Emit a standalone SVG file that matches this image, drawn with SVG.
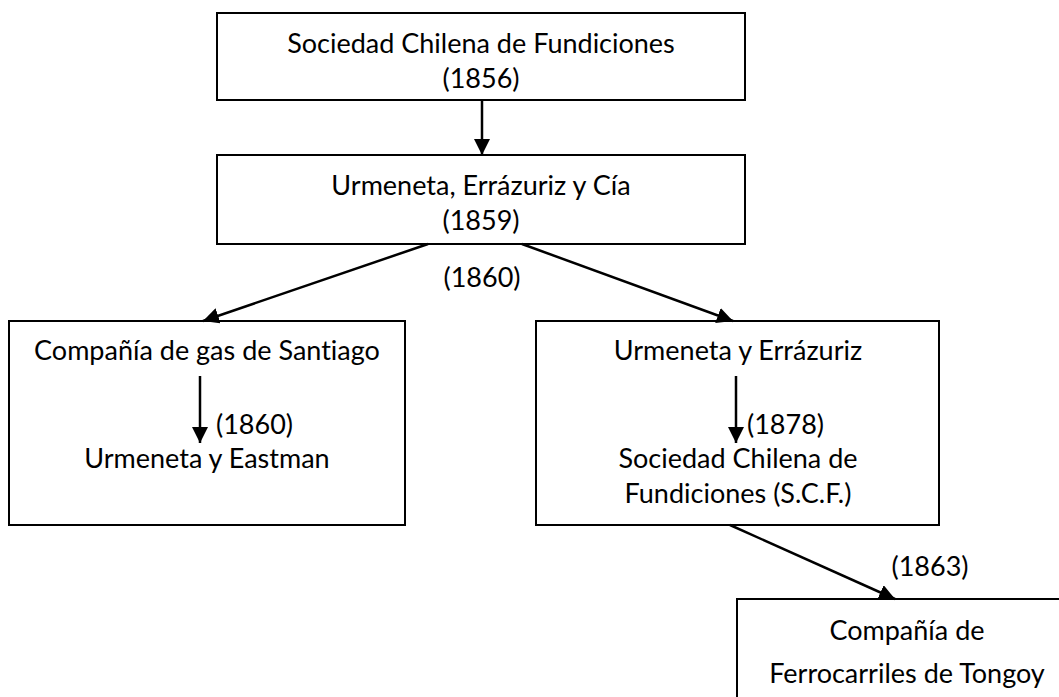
<svg xmlns="http://www.w3.org/2000/svg" width="1059" height="697" viewBox="0 0 1059 697">
<style>
.box{fill:#fff;stroke:#000;stroke-width:2}
.t{font-family:Lato,"Liberation Sans",sans-serif;font-size:27px;fill:#000;text-anchor:middle;font-variant-ligatures:none}
.l{font-family:Lato,"Liberation Sans",sans-serif;font-size:27px;fill:#000;font-variant-ligatures:none}
.c{stroke:#000;stroke-width:2.5;fill:none;marker-end:url(#ah)}
</style>
<defs>
<marker id="ah" markerUnits="userSpaceOnUse" markerWidth="16" markerHeight="16" viewBox="0 0 16 16" refX="16" refY="8" orient="auto">
<path d="M0,0 L16,8 L0,16 z" fill="#000"/>
</marker>
</defs>
<rect width="1059" height="697" fill="#fff"/>
<g id="n1">
<rect class="box" x="217" y="13" width="528" height="87"/>
<text class="t" x="481" y="53">Sociedad Chilena de Fundiciones</text>
<text class="t" x="481" y="88">(1856)</text>
</g>
<g id="n2">
<rect class="box" x="217" y="155" width="528" height="89"/>
<text class="t" x="481" y="195">Urmeneta, Errázuriz y Cía</text>
<text class="t" x="481" y="230">(1859)</text>
</g>
<g id="n3">
<rect class="box" x="9" y="321" width="396" height="204"/>
<text class="t" x="207" y="360">Compañía de gas de Santiago</text>
<text class="t" x="207" y="468">Urmeneta y Eastman</text>
</g>
<g id="n4">
<rect class="box" x="536" y="321" width="403" height="204"/>
<text class="t" x="738" y="360">Urmeneta y Errázuriz</text>
<text class="t" x="738" y="468">Sociedad Chilena de</text>
<text class="t" x="738" y="503">Fundiciones (S.C.F.)</text>
</g>
<g id="n5">
<rect class="box" x="737" y="599" width="340" height="120"/>
<text class="t" x="907" y="640">Compañía de</text>
<text class="t" x="907" y="683">Ferrocarriles de Tongoy</text>
</g>
<g id="connectors">
<line class="c" x1="482" y1="100" x2="482" y2="155"/>
<line class="c" x1="428" y1="244" x2="203" y2="321"/>
<line class="c" x1="522" y1="244" x2="733" y2="321"/>
<line class="c" x1="200" y1="376" x2="200" y2="443"/>
<line class="c" x1="736" y1="376" x2="736" y2="443"/>
<line class="c" x1="730" y1="525" x2="895" y2="599"/>
<text class="t" x="482" y="287">(1860)</text>
<text class="l" x="216" y="434">(1860)</text>
<text class="l" x="747" y="434">(1878)</text>
<text class="t" x="930" y="576">(1863)</text>
</g>
</svg>
